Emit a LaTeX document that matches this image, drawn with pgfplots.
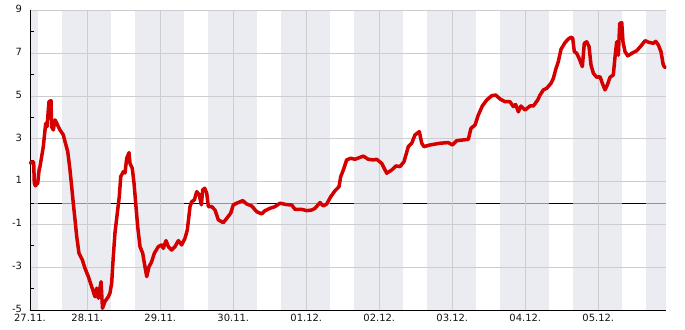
\documentclass[border=0pt]{standalone}
\usepackage{pgfplots}
\pgfplotsset{compat=1.18}
\usepackage{fontspec}
\setmainfont{DejaVu Sans}
\definecolor{bandc}{RGB}{224,226,235}
\definecolor{gridc}{RGB}{205,205,208}
\definecolor{linered}{RGB}{212,0,0}
\definecolor{txt}{RGB}{20,20,20}
\pgfplotstableread{
x y
-0.780 1.87
-0.753 1.93
-0.735 1.90
-0.726 0.95
-0.712 0.80
-0.679 0.93
-0.660 1.55
-0.648 1.70
-0.603 2.63
-0.570 3.72
-0.552 3.56
-0.525 4.73
-0.497 4.78
-0.488 3.56
-0.466 3.41
-0.442 3.88
-0.419 3.72
-0.374 3.41
-0.329 3.18
-0.305 2.86
-0.268 2.40
-0.237 1.54
-0.214 0.76
-0.192 -0.01
-0.168 -0.79
-0.145 -1.57
-0.114 -2.35
-0.068 -2.66
-0.032 -3.05
0.014 -3.44
0.060 -3.91
0.105 -4.38
0.129 -3.98
0.151 -4.45
0.188 -3.68
0.208 -4.92
0.242 -4.60
0.288 -4.38
0.311 -4.20
0.334 -3.74
0.356 -2.50
0.379 -1.40
0.411 -0.47
0.438 0.29
0.458 1.23
0.493 1.46
0.516 1.40
0.540 2.09
0.571 2.35
0.585 1.85
0.616 1.62
0.640 0.92
0.667 -0.17
0.690 -1.10
0.722 -2.04
0.759 -2.35
0.790 -2.98
0.814 -3.44
0.845 -2.98
0.882 -2.74
0.918 -2.35
0.973 -2.04
1.019 -1.96
1.041 -2.12
1.078 -1.76
1.110 -2.04
1.156 -2.20
1.201 -2.04
1.247 -1.76
1.293 -1.96
1.338 -1.65
1.370 -1.26
1.407 -0.17
1.430 0.06
1.466 0.14
1.499 0.53
1.534 0.37
1.562 -0.09
1.581 0.61
1.608 0.69
1.636 0.45
1.658 -0.17
1.704 -0.17
1.749 -0.33
1.795 -0.79
1.863 -0.92
1.910 -0.72
1.964 -0.48
2.000 -0.09
2.047 -0.01
2.129 0.11
2.184 -0.05
2.252 -0.14
2.321 -0.41
2.389 -0.51
2.434 -0.36
2.503 -0.25
2.571 -0.17
2.640 -0.01
2.732 -0.08
2.800 -0.09
2.845 -0.30
2.937 -0.30
3.005 -0.36
3.074 -0.33
3.119 -0.25
3.188 0.02
3.233 -0.14
3.279 -0.05
3.334 0.29
3.393 0.57
3.448 0.76
3.471 1.23
3.507 1.54
3.553 2.01
3.608 2.09
3.667 2.04
3.736 2.13
3.781 2.19
3.849 2.04
3.918 2.01
3.964 2.04
4.033 1.85
4.101 1.39
4.170 1.54
4.229 1.73
4.284 1.70
4.338 1.93
4.397 2.63
4.444 2.79
4.489 3.18
4.548 3.33
4.581 2.79
4.612 2.63
4.695 2.71
4.832 2.79
4.945 2.82
5.000 2.71
5.060 2.91
5.219 2.97
5.256 3.49
5.311 3.64
5.356 4.11
5.411 4.53
5.471 4.81
5.540 5.01
5.595 5.04
5.653 4.86
5.722 4.73
5.790 4.73
5.836 4.50
5.868 4.60
5.904 4.26
5.941 4.53
5.996 4.34
6.064 4.53
6.110 4.53
6.170 4.81
6.201 5.04
6.247 5.28
6.293 5.36
6.352 5.59
6.384 5.82
6.421 6.29
6.452 6.60
6.489 7.18
6.544 7.49
6.589 7.66
6.626 7.74
6.649 7.70
6.671 7.07
6.704 6.99
6.736 6.76
6.781 6.37
6.808 7.46
6.841 7.53
6.873 7.30
6.900 6.44
6.932 6.06
6.978 5.87
7.023 5.90
7.055 5.59
7.092 5.28
7.123 5.51
7.160 5.87
7.205 5.98
7.229 6.83
7.252 7.53
7.274 6.90
7.293 8.39
7.321 8.42
7.338 7.53
7.366 7.07
7.403 6.87
7.458 6.99
7.526 7.11
7.595 7.38
7.640 7.58
7.695 7.50
7.753 7.46
7.786 7.55
7.822 7.38
7.858 7.07
7.890 6.44
7.914 6.32
}\tempdata
\begin{document}
\begin{tikzpicture}
\begin{axis}[
  set layers=standard,
  scale only axis, width=635.7bp, height=299.7bp,
  xmin=-0.785, xmax=7.923, ymin=-5, ymax=9,
  axis x line=bottom, axis y line=left,
  axis line style={-, black, line width=0.9bp},
  xtick={-0.785,0,1,2,3,4,5,6,7},
  xticklabels={27.11.,28.11.,29.11.,30.11.,01.12.,02.12.,03.12.,04.12.,05.12.},
  ytick={-5,-3,-1,1,3,5,7,9},
  yticklabels={-5,-3,-1,1,3,5,7,9},
  minor ytick={-4,-2,0,2,4,6,8},
  xmajorgrids, ymajorgrids,
  major grid style={gridc, line width=0.8bp},
  tick align=inside,
  major tick length=0pt,
  minor tick length=3.5bp,
  minor tick style={black, line width=0.6bp},
  tick label style={font=\fontsize{10}{12}\selectfont, text=txt},
  yticklabel style={xshift=-4.5bp, yshift=1.2bp},
  xticklabel style={yshift=-1bp},
  clip=false,
]
\begin{pgfonlayer}{axis background}
\draw[black, line width=0.9bp] (axis cs:-0.785,0) -- (axis cs:7.923,0);
\fill[bandc, fill opacity=0.65] (axis cs:-0.785,-5) rectangle (axis cs:-0.68,9);
\fill[bandc, fill opacity=0.65] (axis cs:-0.347,-5) rectangle (axis cs:0.325,9);
\fill[bandc, fill opacity=0.65] (axis cs:0.653,-5) rectangle (axis cs:1.325,9);
\fill[bandc, fill opacity=0.65] (axis cs:1.653,-5) rectangle (axis cs:2.325,9);
\fill[bandc, fill opacity=0.65] (axis cs:2.653,-5) rectangle (axis cs:3.325,9);
\fill[bandc, fill opacity=0.65] (axis cs:3.653,-5) rectangle (axis cs:4.325,9);
\fill[bandc, fill opacity=0.65] (axis cs:4.653,-5) rectangle (axis cs:5.325,9);
\fill[bandc, fill opacity=0.65] (axis cs:5.653,-5) rectangle (axis cs:6.325,9);
\fill[bandc, fill opacity=0.65] (axis cs:6.653,-5) rectangle (axis cs:7.325,9);
\fill[bandc, fill opacity=0.65] (axis cs:7.653,-5) rectangle (axis cs:7.923,9);
\end{pgfonlayer}
\addplot[linered, line width=3.5bp, line join=round, line cap=round] table[x=x,y=y] {\tempdata};
\end{axis}
\pgfresetboundingbox
\path[use as bounding box] ([shift={(-30bp,-20bp)}]current axis.south west) rectangle ([shift={(19.3bp,10.3bp)}]current axis.north east);
\end{tikzpicture}
\end{document}
